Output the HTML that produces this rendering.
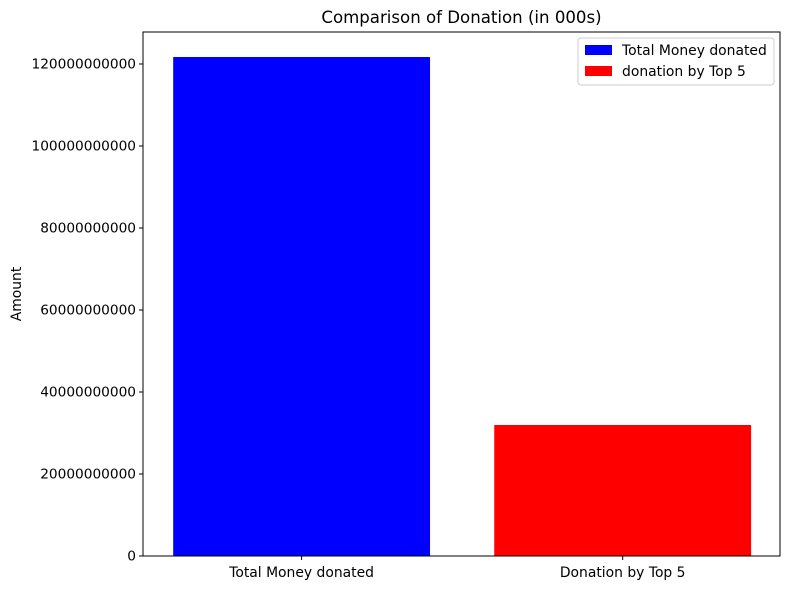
<!DOCTYPE html>
<html><head><meta charset="utf-8"><style>
body{margin:0;background:#fff;font-family:"DejaVu Sans","Liberation Sans",sans-serif;}
svg text{font-family:"DejaVu Sans","Liberation Sans",sans-serif;fill:#000;}
</style></head><body>
<svg id="chart" width="789" height="590">
<text x="461.5" y="23" font-size="16.6" text-anchor="middle">Comparison of Donation (in 000s)</text>
<text transform="translate(21,294) rotate(-90)" font-size="13.9" text-anchor="middle">Amount</text>
<g id="bars"></g><g id="yticks"></g><g id="xticks"></g>
<rect x="143" y="32" width="637" height="524" fill="none" stroke="#000" stroke-width="1"/>
<g>
<rect x="578" y="38" width="196" height="47" fill="#fff" stroke="#ccc" rx="3"/>
<g><rect x="585" y="45" width="27" height="10" fill="#0000ff"/><text x="622" y="55" font-size="13.9">Total Money donated</text></g>
<g><rect x="585" y="66" width="27" height="10" fill="#ff0000"/><text x="622" y="76" font-size="13.9">donation by Top 5</text></g>
</g>
</svg>
<script>
const categories=["Total Money donated","Donation by Top 5"];
const values=[121700000000,31950000000];
const colors=["#0000ff","#ff0000"];
const yTicks=[0,20000000000,40000000000,60000000000,80000000000,100000000000,120000000000];
const yTickLabels=["0","20000000000","40000000000","60000000000","80000000000","100000000000","120000000000"];
const NS="http://www.w3.org/2000/svg";
const L=143,R=780,T=32,B=556;
const yMax=127800000000;
const y=v=>B-(v/yMax)*(B-T);
const xMin=-0.494,xMax=1.49;
const x=i=>L+(i-xMin)/(xMax-xMin)*(R-L);
const bw=0.8*(x(1)-x(0));
function mk(t,a,p){const e=document.createElementNS(NS,t);for(const k in a)e.setAttribute(k,a[k]);p.appendChild(e);return e;}
const gb=document.getElementById('bars'),gy=document.getElementById('yticks'),gx=document.getElementById('xticks');
values.forEach((v,i)=>{
 const r=mk('rect',{x:x(i)-bw/2,y:y(v),width:bw,height:B-y(v),fill:colors[i]},gb);
 
 
 const tk=mk('line',{x1:x(i),x2:x(i),y1:B,y2:B+4,stroke:'#000'},gx);
 
 
 const t=mk('text',{x:x(i),y:B+21,'font-size':13.9,'text-anchor':'middle'},gx);
 t.textContent=categories[i];
 
 
});
yTicks.forEach((v,i)=>{
 const tk=mk('line',{x1:L-4,x2:L,y1:y(v),y2:y(v),stroke:'#000'},gy);
 
 
 const t=mk('text',{x:L-7,y:y(v)+4.5,'font-size':13.7,'text-anchor':'end'},gy);
 t.textContent=yTickLabels[i];
 
 
});
</script>
</body></html>
